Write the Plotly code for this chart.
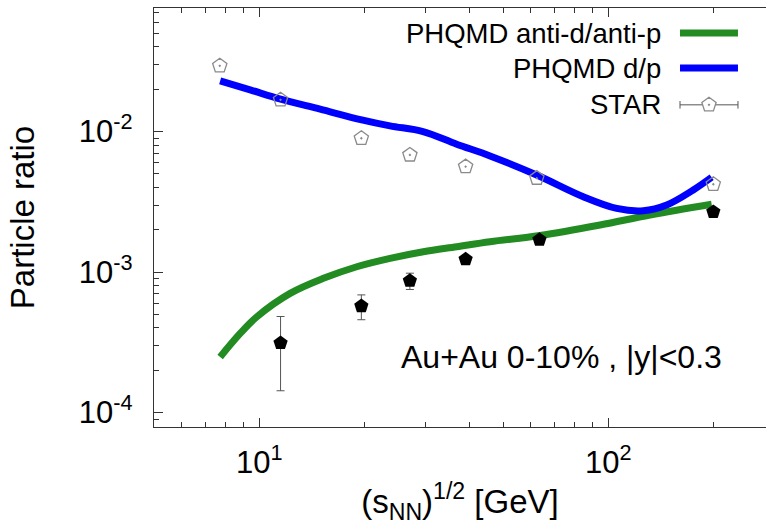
import plotly.graph_objects as go

# ---------------- data ----------------
# PHQMD d/p curve
phqmd_dp_x = [7.72, 9.41, 11.51, 14.93, 19.65, 23.69, 29.45, 36.78, 45.83, 62.35, 84.8, 105.7, 126.0, 147.0, 175.2, 197.8]
phqmd_dp_y = [0.02298, 0.01982, 0.01702, 0.01444, 0.01212, 0.01098, 0.0100, 0.00813, 0.00671, 0.00491, 0.00344, 0.00284, 0.002734, 0.003003, 0.003842, 0.00473]

# PHQMD anti-d/anti-p curve
phqmd_adap_x = [7.72, 8.81, 9.83, 12.25, 15.26, 19.02, 23.69, 29.51, 36.78, 45.83, 63.7, 94.7, 131.7, 197.8]
phqmd_adap_y = [2.49e-4, 3.66e-4, 4.80e-4, 7.05e-4, 9.02e-4, 1.091e-3, 1.252e-3, 1.396e-3, 1.515e-3, 1.644e-3, 1.820e-3, 2.163e-3, 2.548e-3, 3.039e-3]

# STAR d/p (open pentagons)
star_dp_x = [7.7, 11.5, 19.6, 27.0, 39.0, 62.4, 200.0]
star_dp_y = [0.02938, 0.01683, 0.00897, 0.00682, 0.00563, 0.00466, 0.00422]

# STAR anti-d/anti-p (filled pentagons)
star_adap_x = [11.5, 19.6, 27.0, 39.0, 63.5, 200.0]
star_adap_y = [3.13e-4, 5.73e-4, 8.67e-4, 1.233e-3, 1.70e-3, 2.68e-3]
star_adap_err = [1.7e-4, 1.15e-4, 1.15e-4, 4e-5, 5e-5, 8e-5]

x_tickvals = [10, 100]
x_ticktext = ["10<sup>1</sup>", "10<sup>2</sup>"]
y_tickvals = [1e-4, 1e-3, 1e-2]
y_ticktext = ["10<sup>-4</sup>", "10<sup>-3</sup>", "10<sup>-2</sup>"]

legend_names = ["PHQMD anti-d/anti-p", "PHQMD d/p", "STAR"]
annotation_text = "Au+Au 0-10% , |y|<0.3"

GREEN = "#228B22"
BLUE = "#0000FF"
GREY = "#8a8a8a"
FONT = "Liberation Sans, Arial, sans-serif"

fig = go.Figure()

fig.add_trace(go.Scatter(x=phqmd_adap_x, y=phqmd_adap_y, mode="lines",
                         line=dict(color=GREEN, width=7, shape="spline", smoothing=1.0),
                         showlegend=False))
fig.add_trace(go.Scatter(x=phqmd_dp_x, y=phqmd_dp_y, mode="lines",
                         line=dict(color=BLUE, width=7, shape="spline", smoothing=1.0),
                         showlegend=False))
fig.add_trace(go.Scatter(x=star_dp_x, y=star_dp_y, mode="markers",
                         marker=dict(symbol="pentagon-open-dot", size=15, color=GREY,
                                     line=dict(width=1.3, color=GREY)),
                         showlegend=False))
fig.add_trace(go.Scatter(x=star_adap_x, y=star_adap_y, mode="markers",
                         marker=dict(symbol="pentagon", size=15, color="black"),
                         error_y=dict(type="data", array=star_adap_err, visible=True,
                                      color="#555555", thickness=1, width=4),
                         showlegend=False))

# ----- legend drawn on an overlay axis (0..1 paper-like) -----
leg_rows = [0.9403, 0.8566, 0.7689]
leg_x0, leg_x1 = 0.8595, 0.9542
leg_txt_x = 0.8317
for yy, col in zip(leg_rows[:2], [GREEN, BLUE]):
    fig.add_trace(go.Scatter(x=[leg_x0, leg_x1], y=[yy, yy], mode="lines",
                             line=dict(color=col, width=7), xaxis="x2", yaxis="y2",
                             showlegend=False, hoverinfo="skip"))
fig.add_trace(go.Scatter(x=[leg_x0, leg_x1], y=[leg_rows[2], leg_rows[2]], mode="lines",
                         line=dict(color="#555555", width=1), xaxis="x2", yaxis="y2",
                         showlegend=False, hoverinfo="skip"))
for xx in [leg_x0, leg_x1]:
    fig.add_trace(go.Scatter(x=[xx, xx], y=[leg_rows[2] - 0.009, leg_rows[2] + 0.009], mode="lines",
                             line=dict(color="#555555", width=1), xaxis="x2", yaxis="y2",
                             showlegend=False, hoverinfo="skip"))
fig.add_trace(go.Scatter(x=[(leg_x0 + leg_x1) / 2], y=[leg_rows[2]], mode="markers",
                         marker=dict(symbol="pentagon-dot", size=15, color="white",
                                     line=dict(width=1.3, color=GREY)),
                         xaxis="x2", yaxis="y2", showlegend=False, hoverinfo="skip"))

annotations = []
for yy, name in zip(leg_rows, legend_names):
    annotations.append(dict(x=leg_txt_x, y=yy, xref="paper", yref="paper", text=name,
                            showarrow=False, xanchor="right", yanchor="middle",
                            font=dict(size=27.5, color="black", family=FONT)))
annotations.append(dict(x=0.9314, y=0.1666, xref="paper", yref="paper", text=annotation_text,
                        showarrow=False, xanchor="right", yanchor="middle",
                        font=dict(size=32, color="black", family=FONT)))

x_minor = [m * 10 ** e for e in range(0, 3) for m in range(2, 10)]
y_minor = [m * 10 ** e for e in range(-5, -1) for m in range(2, 10)]

axis_common = dict(showline=True, linecolor="#333333", linewidth=1.3, ticks="inside",
                   ticklen=9, tickwidth=1, tickcolor="#333333", showgrid=False, zeroline=False,
                   tickfont=dict(size=31, family=FONT, color="black"))

fig.update_layout(
    width=766, height=530,
    margin=dict(l=154, r=0, t=8, b=103),
    paper_bgcolor="white", plot_bgcolor="white",
    font=dict(family=FONT, color="black"),
    showlegend=False,
    annotations=annotations,
    xaxis=dict(type="log", range=[0.698, 2.452], tickmode="array", tickvals=x_tickvals,
               ticktext=x_ticktext, mirror="ticks", ticklabelstandoff=8,
               minor=dict(tickmode="array", tickvals=x_minor, ticks="inside", ticklen=5,
                          tickcolor="#333333", tickwidth=1),
               title=dict(text="(s<sub>NN</sub>)<sup>1/2</sup> [GeV]", font=dict(size=33, family=FONT),
                          standoff=10),
               **axis_common),
    yaxis=dict(type="log", range=[-4.1026, -1.1205], tickmode="array", tickvals=y_tickvals,
               ticktext=y_ticktext, ticklabelstandoff=14,
               minor=dict(tickmode="array", tickvals=y_minor, ticks="inside", ticklen=5,
                          tickcolor="#333333", tickwidth=1),
               title=dict(text="Particle ratio", font=dict(size=33, family=FONT), standoff=34),
               **axis_common),
    xaxis2=dict(overlaying="x", range=[0, 1], visible=False, fixedrange=True),
    yaxis2=dict(overlaying="y", range=[0, 1], visible=False, fixedrange=True),
)

fig.write_html("out.html")
